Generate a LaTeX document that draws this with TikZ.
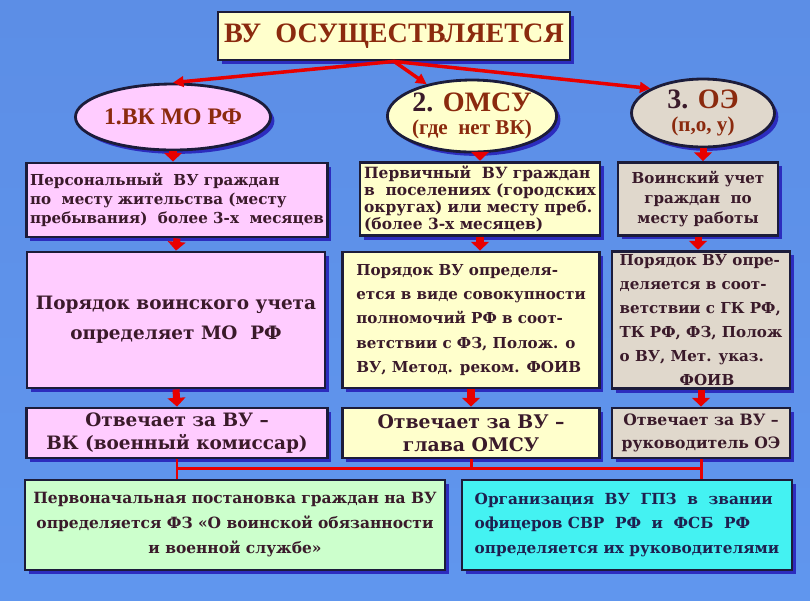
\documentclass[tikz,border=0pt]{standalone}
\usepackage{fontspec}
\setmainfont{DejaVu Serif}
\newfontfamily\headfont{Liberation Serif}
\usetikzlibrary{shapes.geometric,shadows,arrows.meta}
\definecolor{bgtop}{HTML}{5C8EE6}
\definecolor{bgmid}{HTML}{DDE2F4}
\definecolor{bgbot}{HTML}{6096EE}
\definecolor{edgecol}{HTML}{1C1C3A}
\definecolor{shadecol}{HTML}{2C2CBE}
\definecolor{pinkfill}{HTML}{FFCCFF}
\definecolor{yellowfill}{HTML}{FFFFCC}
\definecolor{beigefill}{HTML}{E0D8CC}
\definecolor{greenfill}{HTML}{CCFFCC}
\definecolor{cyanfill}{HTML}{44F2F2}
\definecolor{txtcol}{HTML}{3A1A2A}
\definecolor{brickcol}{HTML}{8B2A0E}
\definecolor{navytxt}{HTML}{1E2050}
\definecolor{linkred}{HTML}{E80000}
\begin{document}
\begin{tikzpicture}[x = 0.02cm, y = -0.02cm,
        box/.style = {draw = edgecol, line width = 1.6pt, inner sep = 2pt, text = txtcol,
            drop shadow = {shadow xshift = 2.2pt, shadow yshift = -2.2pt, fill = shadecol, opacity = 1}},
        oval/.style = {ellipse, box, inner sep = 0pt, text = brickcol},
        pointer/.style = {draw = linkred, line width = 2pt, -{Triangle[length = 6pt, width = 6pt]}},
        block/.style = {draw = linkred, line width = 4pt, -{Triangle[length = 5pt, width = 10pt]}},
        link/.style = {draw = linkred, line width = 1.7pt}]
    % background
    \shade [top color = bgtop, middle color = bgmid, bottom color = bgbot] (0, 0) rectangle (810, 600);
    \useasboundingbox (0, 0) rectangle (810, 600);

    % heading and the three bodies
    \node [box, fill = yellowfill, text = brickcol, minimum width = 7.04cm, minimum height = 0.96cm,
        font = \headfont\bfseries\fontsize{16}{18}\selectfont] (vu) at (394, 36) {ВУ\ \ ОСУЩЕСТВЛЯЕТСЯ};
    \node [oval, fill = pinkfill, minimum width = 3.26cm, minimum height = 1.32cm,
        font = \headfont\bfseries\fontsize{13.5}{15}\selectfont] (vk) at (173, 117) {1.ВК МО РФ};
    \node [oval, fill = yellowfill, minimum width = 3.3cm, minimum height = 1.44cm, align = center,
        font = \headfont\bfseries\fontsize{12}{13}\selectfont] (omsu) at (472, 116)
        {{\fontsize{16}{17}\selectfont\textcolor{txtcol}{2.} ОМСУ}\\(где\ \ нет ВК)};
    \node [oval, fill = beigefill, minimum width = 2.86cm, minimum height = 1.36cm, align = center,
        font = \headfont\bfseries\fontsize{12}{13}\selectfont] (oe) at (703, 113)
        {{\fontsize{16}{17}\selectfont\textcolor{txtcol}{3.} ОЭ}\\(п,о, у)};

    % first column
    \node [box, fill = pinkfill, minimum width = 6.02cm, minimum height = 1.48cm, align = left,
        font = \bfseries\fontsize{8.6}{10.8}\selectfont] (a1) at (177, 200)
        {Персональный\ \ ВУ граждан\\по\ \ месту жительства (месту\\пребывания)\ \ более 3-х\ \ месяцев};
    \node [box, fill = pinkfill, minimum width = 5.96cm, minimum height = 2.72cm, align = center,
        font = \bfseries\fontsize{10.5}{17}\selectfont] (a2) at (176, 320)
        {Порядок воинского учета\\определяет МО\ \ РФ};
    \node [box, fill = pinkfill, minimum width = 6.02cm, minimum height = 1.0cm, align = center,
        font = \bfseries\fontsize{10.5}{13}\selectfont] (a3) at (177, 433)
        {Отвечает за ВУ --\\ВК (военный комиссар)};

    % second column
    \node [box, fill = yellowfill, minimum width = 4.8cm, minimum height = 1.46cm, align = left,
        font = \bfseries\fontsize{8.8}{9.8}\selectfont] (b1) at (480, 199)
        {Первичный\ \ ВУ граждан\\в\ \ поселениях (городских\\округах) или месту преб.\\(более 3-х месяцев)};
    \node [box, fill = yellowfill, minimum width = 5.14cm, minimum height = 2.72cm, align = left,
        font = \bfseries\fontsize{8.6}{13.9}\selectfont] (b2) at (471, 320)
        {Порядок ВУ определя-\\ется в виде совокупности\\полномочий РФ в соот-\\ветствии с ФЗ, Полож. о\\ВУ, Метод. реком. ФОИВ};
    \node [box, fill = yellowfill, minimum width = 5.14cm, minimum height = 1.0cm, align = center,
        font = \bfseries\fontsize{10.7}{13}\selectfont] (b3) at (471, 433)
        {Отвечает за ВУ --\\глава ОМСУ};

    % third column
    \node [box, fill = beigefill, minimum width = 3.2cm, minimum height = 1.46cm, align = center,
        font = \bfseries\fontsize{8.6}{11.3}\selectfont] (c1) at (698, 199)
        {Воинский учет\\граждан\ \ по\\месту работы};
    \node [box, fill = beigefill, minimum width = 3.56cm, minimum height = 2.72cm, align = left,
        font = \bfseries\fontsize{8.6}{13.6}\selectfont] (c2) at (701, 320)
        {Порядок ВУ опре-\\деляется в соот-\\ветствии с ГК РФ,\\ТК РФ, ФЗ, Полож\\о ВУ, Мет. указ.\\\hspace*{1.2cm}ФОИВ};
    \node [box, fill = beigefill, minimum width = 3.56cm, minimum height = 1.0cm, align = center,
        font = \bfseries\fontsize{8.9}{13}\selectfont] (c3) at (701, 433)
        {Отвечает за ВУ --\\руководитель ОЭ};

    % bottom row
    \node [box, fill = greenfill, minimum width = 8.4cm, minimum height = 1.8cm, align = center,
        font = \bfseries\fontsize{8.8}{14.2}\selectfont] (fz) at (235, 525)
        {Первоначальная постановка граждан на ВУ\\определяется ФЗ «О воинской обязанности\\и военной службе»};
    \node [box, fill = cyanfill, text = navytxt, minimum width = 6.6cm, minimum height = 1.8cm, align = left,
        font = \bfseries\fontsize{8.7}{14.2}\selectfont] (gpz) at (627, 525)
        {Организация\ \ ВУ\ \ ГПЗ\ \ в\ \ звании\\офицеров СВР\ \ РФ\ \ и\ \ ФСБ\ \ РФ\\определяется их руководителями};

    % arrows from heading
    \draw [pointer] (vu.south) -- (vk.north);
    \draw [pointer] (vu.south) -- (omsu.145);
    \draw [pointer] (vu.south) -- (oe.155);

    % block arrows down the columns
    \draw [block] (vk.south) -- (vk.south |- a1.north);
    \draw [block] (a1.south) -- (a2.north);
    \draw [block] (a2.south) -- (a3.north);
    \draw [block] (omsu.south -| b1.north) -- (b1.north);
    \draw [block] (b1.south) -- (b1.south |- b2.north);
    \draw [block] (b2.south) -- (b3.north);
    \draw [block] (oe.south) -- (oe.south |- c1.north);
    \draw [block] (c1.south) -- (c1.south |- c2.north);
    \draw [block] (c2.south) -- (c3.north);

    % joining line
    \coordinate (join) at (0, 468);
    \draw [link] (a3.south) -- (a3.south |- fz.north);
    \draw [link] (a3.south |- join) -- (c3.south |- join);
    \draw [link] (b3.south) -- (b3.south |- join);
    \draw [link] (c3.south) -- (c3.south |- gpz.north);
\end{tikzpicture}
\end{document}
